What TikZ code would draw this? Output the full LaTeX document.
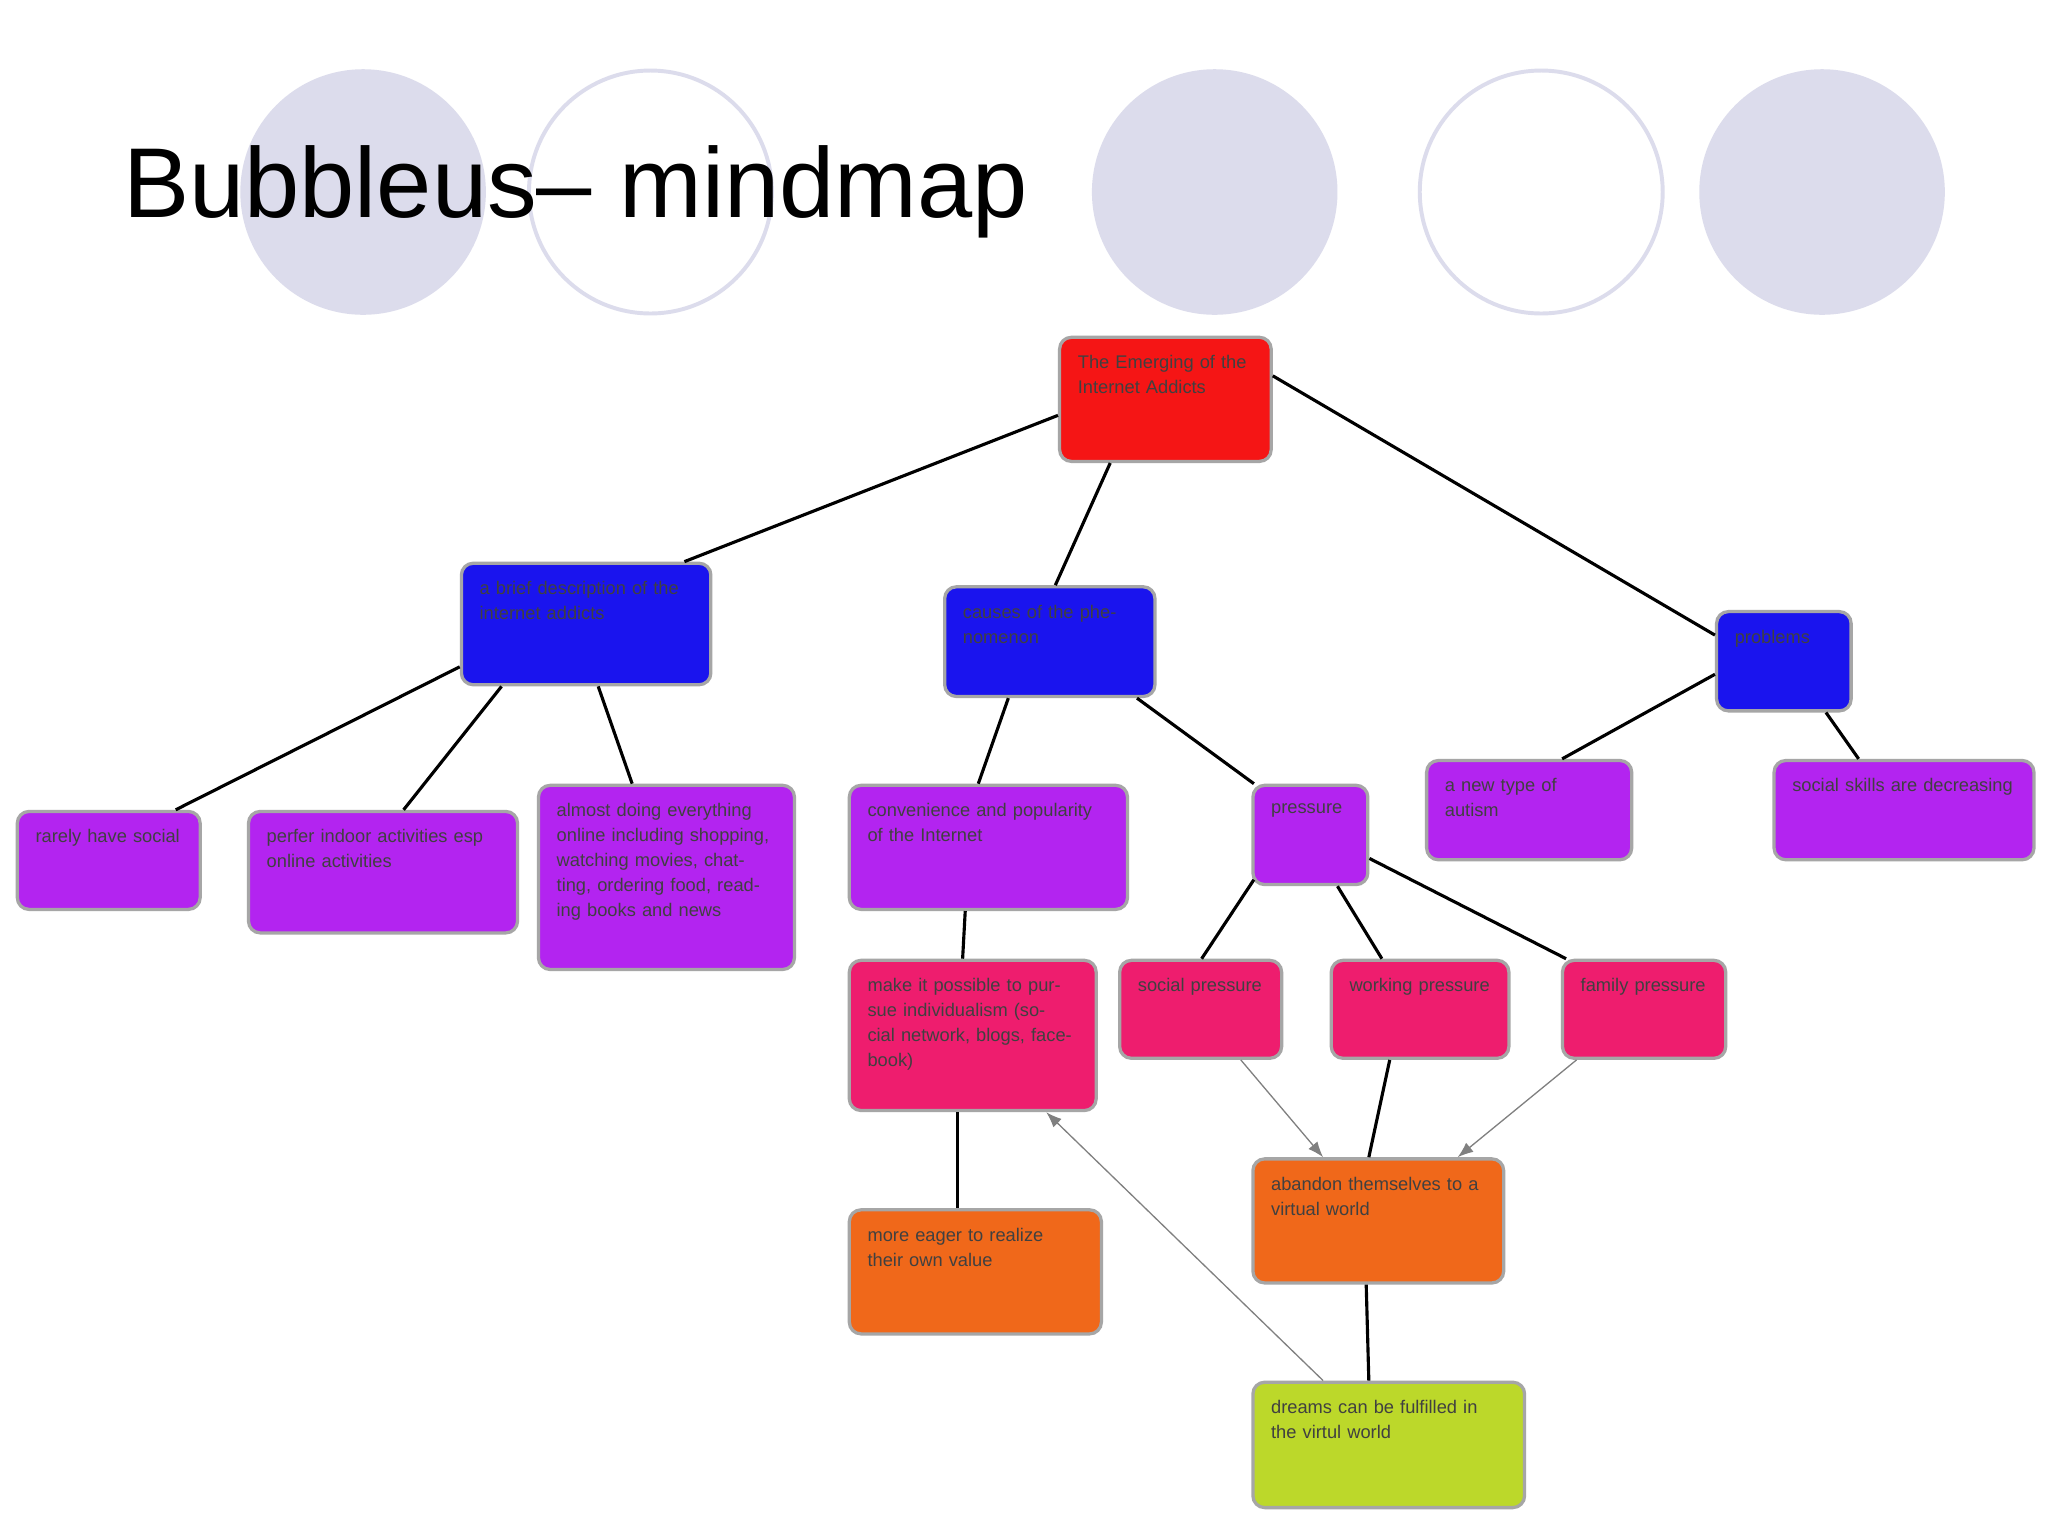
\documentclass[tikz,border=0pt]{standalone}
\usepackage{fontspec}
\setmainfont{Liberation Sans}
\usetikzlibrary{arrows.meta}
\definecolor{lav}{HTML}{DCDCEC}
\definecolor{cred}{HTML}{F51515}
\definecolor{cblue}{HTML}{1A14EE}
\definecolor{cpur}{HTML}{B324F0}
\definecolor{cpink}{HTML}{EE1D6E}
\definecolor{corange}{HTML}{F0681A}
\definecolor{cgreen}{HTML}{BCD82A}
\tikzset{
 bx/.style={draw=black!35,line width=2.5pt,rounded corners=9pt,anchor=north west,inner sep=0pt},
 tx/.style={anchor=north west,align=left,inner sep=0pt,font=\fontsize{14}{19}\selectfont,text=black!75},
 ln/.style={line width=2.4pt,black},
 ar/.style={line width=1pt,gray,-{Latex[length=12pt,width=9pt]}},
 lavf/.style={fill=lav,draw=none},
 lavo/.style={draw=lav,line width=3pt,fill=white}
}
\newcommand{\bbox}[7]{% name, x1,y1,x2,y2, color, text
 \node[bx,fill=#6,minimum width={#4-#2},minimum height={#5-#3}] (#1) at (#2,#3) {};
 \node[tx,text width={#4-#2-28}] (#1t) at ($(#1.north west)+(15,15)$) {#7};}
\usetikzlibrary{calc}
\begin{document}
\begin{tikzpicture}[x=1pt,y=-1pt]
\useasboundingbox (0,0) rectangle (1568,1176);
\fill[white] (0,0) rectangle (1568,1176);
\fill[lav] (278,147) circle (94);
\draw[lavo] (498,147) circle (93);
\fill[lav] (930,147) circle (94);
\draw[lavo] (1180,147) circle (93);
\fill[lav] (1395,147) circle (94);
\node[anchor=west,inner sep=0pt,font=\fontsize{76}{80}\selectfont] (title) at (94,147) {Bubbleus– mindmap};
\bbox{root}{810}{257}{972}{352}{cred}{The Emerging of the Internet Addicts}
\bbox{b1}{352}{430}{543}{523}{cblue}{a brief description of the internet addicts}
\bbox{b2}{722}{448}{883}{532}{cblue}{causes of the phenomenon}
\bbox{b3}{1313}{467}{1416}{543}{cblue}{problems}
\bbox{p1}{12}{620}{152}{695}{cpur}{rarely have social}
\bbox{p2}{189}{620}{395}{713}{cpur}{perfer indoor activities esp online activities}
\bbox{p3}{411}{600}{607}{741}{cpur}{almost doing everything online including shopping, watching movies, chatting, ordering food, reading books and news}
\bbox{p4}{649}{600}{862}{695}{cpur}{convenience and popularity of the Internet}
\bbox{p5}{958}{600}{1046}{676}{cpur}{pressure}
\bbox{p6}{1091}{581}{1248}{657}{cpur}{a new type of autism}
\bbox{p7}{1357}{581}{1556}{657}{cpur}{social skills are decreasing}
\bbox{r1}{649}{734}{838}{849}{cpink}{make it possible to pursue individualism (social network, blogs, facebook)}
\bbox{r2}{856}{734}{980}{809}{cpink}{social pressure}
\bbox{r3}{1018}{734}{1154}{809}{cpink}{working pressure}
\bbox{r4}{1195}{734}{1320}{809}{cpink}{family pressure}
\bbox{o1}{649}{925}{842}{1020}{corange}{more eager to realize their own value}
\bbox{o2}{958}{886}{1150}{981}{corange}{abandon themselves to a virtual world}
\bbox{g1}{958}{1057}{1166}{1153}{cgreen}{dreams can be fulfilled in the virtul world}
\begin{scope}[on background layer/.style={}]
\draw[ln] (root.west|-0,318) -- (524,430);
\end{scope}
\draw[ln] (root.south west) ++(40,0) -- ($(b2.north west)+(86,0)$);
\draw[ln] ($(root.east)+(0,-18)$) -- ($(b3.west)+(0,-20)$);
\draw[ln] ($(b1.south west)+(0,-15)$) -- ($(p1.north east)+(-20,0)$);
\draw[ln] ($(b1.south west)+(32,0)$) -- ($(p2.north west)+(120,0)$);
\draw[ln] ($(b1.south west)+(106,0)$) -- ($(p3.north west)+(73,0)$);
\draw[ln] ($(b2.south west)+(50,0)$) -- ($(p4.north west)+(100,0)$);
\draw[ln] ($(b2.south east)+(-15,0)$) -- ($(p5.north west)+(2,0)$);
\draw[ln] ($(b3.west)+(0,10)$) -- ($(p6.north west)+(105,0)$);
\draw[ln] ($(b3.south west)+(85,0)$) -- ($(p7.north west)+(66,0)$);
\draw[ln] ($(p4.south west)+(90,0)$) -- ($(r1.north west)+(88,0)$);
\draw[ln] ($(p5.south west)+(2,-5)$) -- ($(r2.north west)+(64,0)$);
\draw[ln] ($(p5.south west)+(66,0)$) -- ($(r3.north west)+(40,0)$);
\draw[ln] ($(p5.east)+(0,18)$) -- ($(r4.north west)+(4,0)$);
\draw[ln] ($(r1.south west)+(84,0)$) -- ($(o1.north west)+(84,0)$);
\draw[ln] ($(r3.south west)+(46,0)$) -- ($(o2.north west)+(90,0)$);
\draw[ln] ($(o2.south west)+(88,0)$) -- ($(g1.north west)+(90,0)$);
\draw[ar] ($(r2.south west)+(94,0)$) -- ($(o2.north west)+(55,0)$);
\draw[ar] ($(r4.south west)+(12,0)$) -- ($(o2.north west)+(158,0)$);
\draw[ar] ($(g1.north west)+(55,0)$) -- ($(r1.south west)+(152,0)$);
\end{tikzpicture}
\end{document}
